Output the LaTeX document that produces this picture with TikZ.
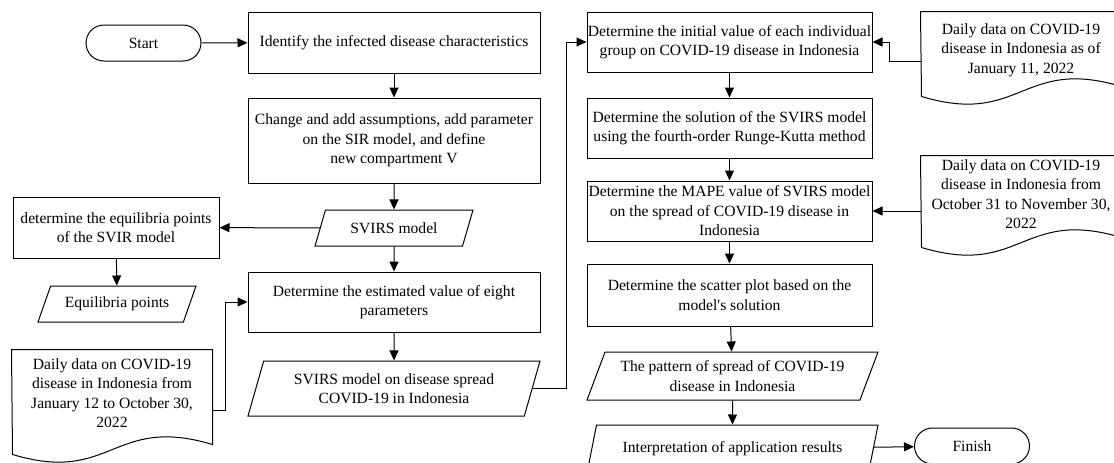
\documentclass[tikz,border=0pt]{standalone}
\usepackage{fontspec}
\setmainfont{Liberation Serif}
\usetikzlibrary{shapes.geometric,arrows.meta}

\newcommand{\docshape}[2]{\draw (#1.north west) -- (#1.north east) -- ++(0,#2-10) .. controls +(-100,-30) and +(100,30) .. ++(-200,10) -- cycle;}

\begin{document}
\begin{tikzpicture}[x=1pt,y=-1pt,line width=1pt,
    font=\fontsize{15.6}{19.5}\selectfont,
    every node/.style={align=center,inner xsep=0pt,inner ysep=2pt},
    proc/.style={draw,rectangle,minimum width=#1},
    proc/.default=292pt,
    term/.style={draw,rectangle,rounded corners=18pt,minimum width=115pt,minimum height=36pt},
    io/.style={draw,trapezium,trapezium stretches body,trapezium left angle=#1,trapezium right angle=180-#1},
    doc/.style={minimum width=200pt},
    arr/.style={-{Triangle[length=10pt,width=9pt]}}]
\useasboundingbox (0,0) rectangle (1114,463);

\node[term] (start) at (143.5,43) {Start};
\node[proc,minimum height=61pt] (ident) at (394,42.5) {Identify the infected disease characteristics};
\node[proc,minimum height=85pt] (change) at (394,140.5) {Change and add assumptions, add parameter\\ on the SIR model, and define\\ new compartment V};
\node[io=55.2,minimum width=158pt,minimum height=36pt] (svirs) at (394,228) {SVIRS model};
\node[proc=206pt,minimum height=61pt] (equil) at (116,227.5) {determine the equilibria points\\ of the SVIR model};
\node[io=55.2,minimum width=158pt,minimum height=36pt] (eqpt) at (117,304) {Equilibria points};
\node[proc,minimum height=60pt] (estim) at (394,302) {Determine the estimated value of eight\\ parameters};
\node[doc,minimum height=86pt] (datajan) at (112,393) {Daily data on COVID-19\\ disease in Indonesia from\\ January 12 to October 30,\\ 2022};
\node[io=65.6,minimum width=292pt,minimum height=55pt] (spread) at (394,388.5) {SVIRS model on disease spread\\ COVID-19 in Indonesia};

\node[proc=285pt,minimum height=60pt] (init) at (729.5,42) {Determine the initial value of each individual\\ group on COVID-19 disease in Indonesia};
\node[proc=285pt,minimum height=60pt] (rk) at (729.5,128) {Determine the solution of the SVIRS model\\ using the fourth-order Runge-Kutta method};
\node[proc=285pt,minimum height=60pt] (mape) at (729.5,211) {Determine the MAPE value of SVIRS model\\ on the spread of COVID-19 disease in\\ Indonesia};
\node[proc=285pt,minimum height=62pt] (scatter) at (729.5,295) {Determine the scatter plot based on the\\ model\textquotesingle s solution};
\node[io=62.5,minimum width=291pt,minimum height=48pt] (pattern) at (732.5,376) {The pattern of spread of COVID-19\\ disease in Indonesia};
\node[io=62.5,minimum width=291pt,minimum height=48pt] (interp) at (732.5,449) {Interpretation of application results};
\node[term] (finish) at (972,446) {Finish};
\node[doc,minimum height=76pt] (dataini) at (1021,50) {Daily data on COVID-19\\ disease in Indonesia as of\\ January 11, 2022};
\node[doc,minimum height=76pt] (datanov) at (1021,194) {Daily data on COVID-19\\ disease in Indonesia from\\ October 31 to November 30,\\ 2022};

\docshape{datajan}{105}
\docshape{dataini}{85}
\docshape{datanov}{92}

\draw[arr] (start) -- (ident);
\draw[arr] (ident) -- (change);
\draw[arr] (change) -- (svirs);
\draw[arr] (svirs) -- (equil);
\draw[arr] (equil) -- (eqpt);
\draw[arr] (svirs) -- (estim);
\draw[arr] ([yshift=-61pt]datajan.north east) -- ++(13,0) |- (estim);
\draw[arr] (estim) -- (spread);
\draw[arr] (spread.east) -- ++(34,0) |- (init);
\draw[arr] ([yshift=-50pt]dataini.north west) -- ++(-31,0) |- (init);
\draw[arr] (init) -- (rk);
\draw[arr] (rk) -- (mape);
\draw[arr] (mape.east -| datanov.west) -- (mape);
\draw[arr] (mape) -- (scatter);
\draw[arr] (scatter) -- (pattern);
\draw[arr] (pattern) -- (interp);
\draw[arr] (interp) -- (finish);
\end{tikzpicture}
\end{document}
